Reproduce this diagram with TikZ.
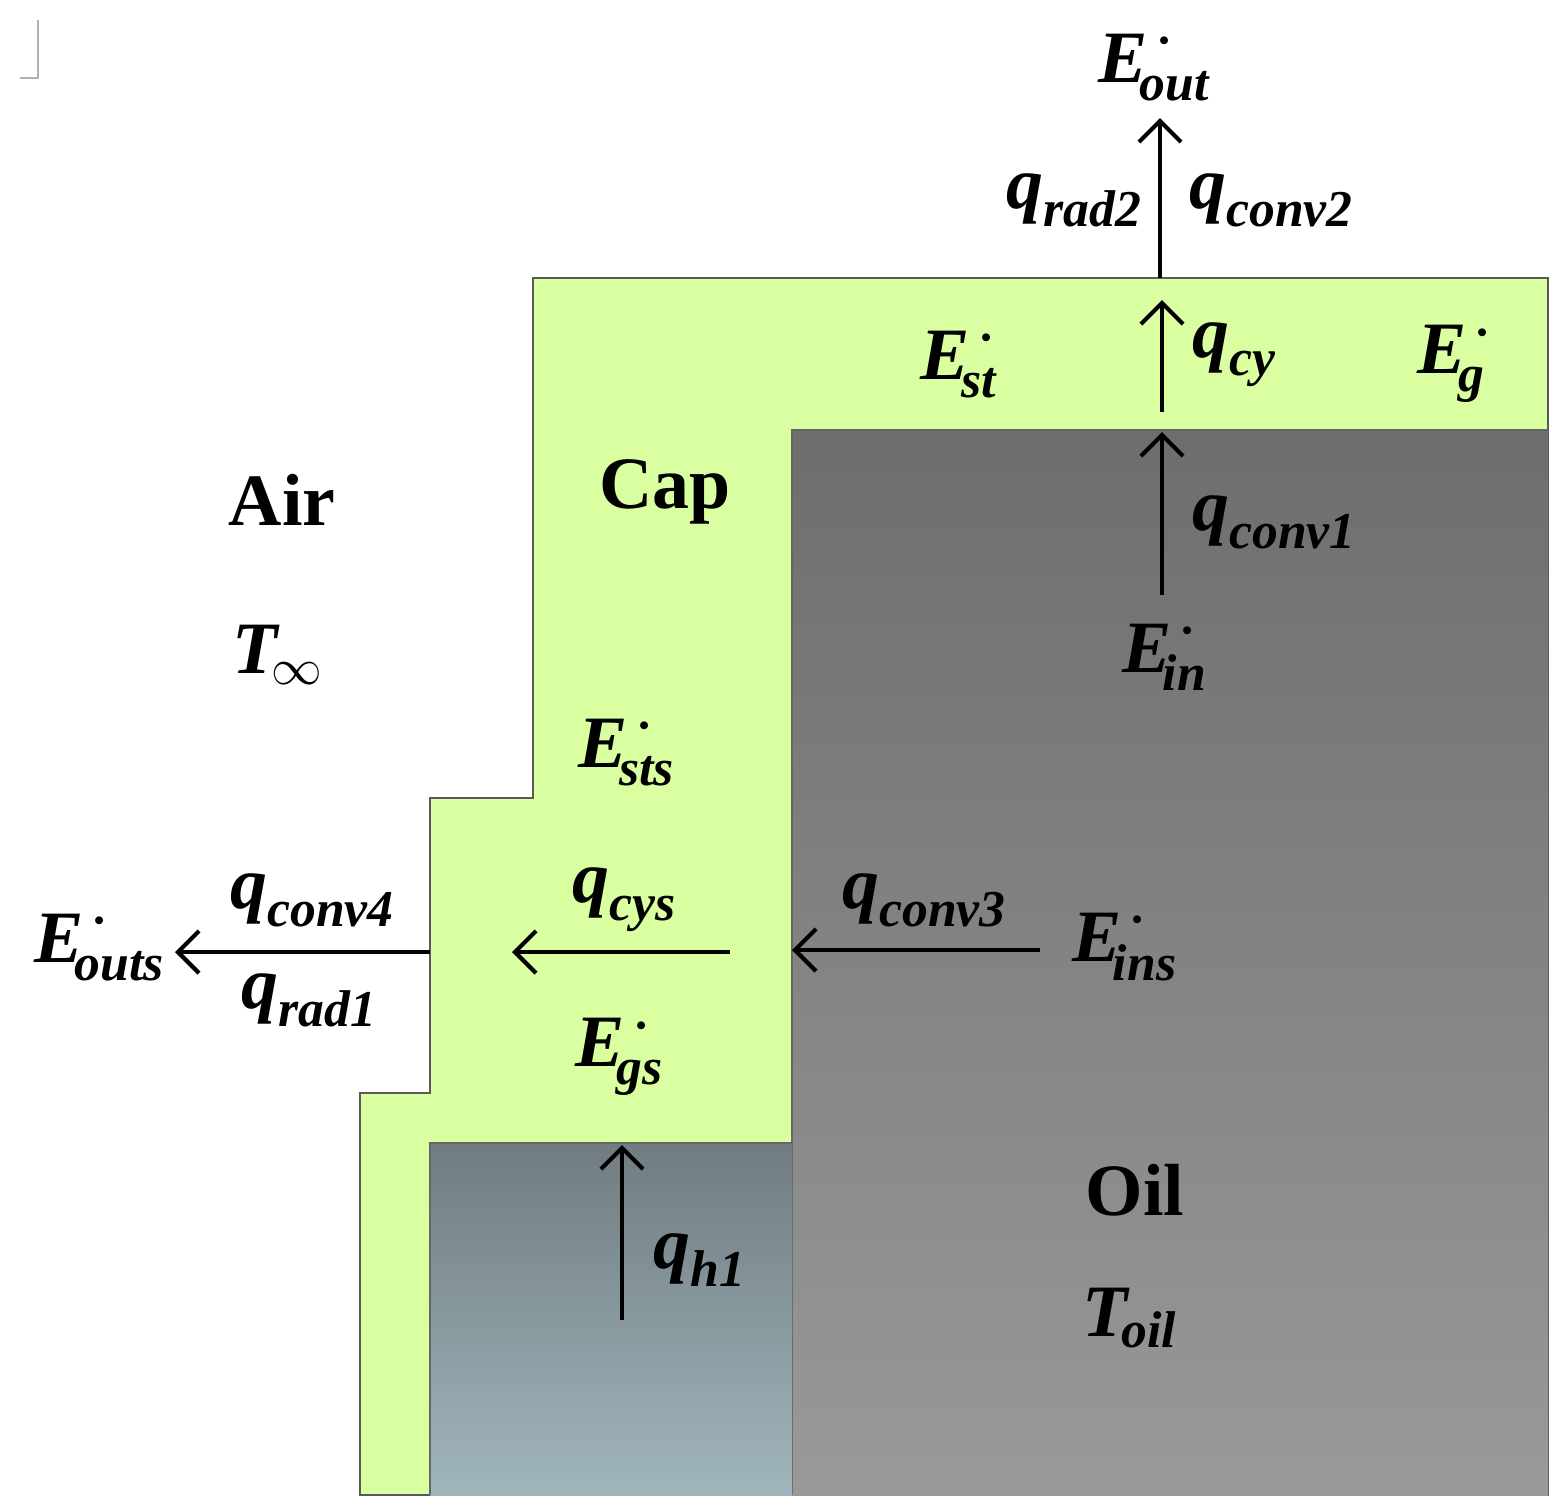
\documentclass[tikz,border=0pt]{standalone}
\usepackage{amsmath}
\usepackage{fontspec}
\setmainfont{Liberation Serif}
\usetikzlibrary{arrows.meta}
\definecolor{capg}{HTML}{D9FFA0}
\newcommand{\bi}[1]{\textbf{\textit{#1}}}
\newcommand{\En}[1]{$\bi{E}^{\,\boldsymbol{\cdot}}_{\!\bi{#1}}$}
\newcommand{\qn}[1]{$\bi{q}_{\bi{#1}}$}
\tikzset{
 fl/.style={line width=1.2pt,-{Straight Barb[length=6pt,width=12pt,line width=1.2pt]}},
 lb/.style={font=\fontsize{21}{24}\selectfont, inner sep=0pt},
 word/.style={font=\fontsize{21}{24}\selectfont\bfseries, inner sep=0pt}
}
\begin{document}
\begin{tikzpicture}[x=0.01cm,y=-0.01cm]
\useasboundingbox (0,0) rectangle (1560,1511);
\draw[gray!60] (20,78) -- (38,78) -- (38,20);
\draw[gray!70!black, fill=capg] (533,278) -- (1548,278) -- (1548,1495) -- (360,1495) -- (360,1093) -- (430,1093) -- (430,798) -- (533,798) -- cycle;
\shade[top color=black!57, bottom color=black!40] (792,430) rectangle (1548,1495);
\draw[gray!80!black] (792,1495) -- (792,430) -- (1548,430);
\shade[top color={rgb,255:red,112;green,124;blue,128}, bottom color={rgb,255:red,160;green,182;blue,188}] (430,1143) rectangle (792,1495);
\draw[gray!80!black] (430,1495) -- (430,1143) -- (792,1143);

\coordinate (a1s) at (1160,278); \coordinate (a1e) at (1160,118);
\coordinate (a2s) at (1162,412); \coordinate (a2e) at (1162,300);
\coordinate (a3s) at (1162,595); \coordinate (a3e) at (1162,432);
\coordinate (a4s) at (430,952); \coordinate (a4e) at (175,952);
\coordinate (a5s) at (730,952); \coordinate (a5e) at (512,952);
\coordinate (a6s) at (1040,950); \coordinate (a6e) at (792,950);
\coordinate (a7s) at (622,1320); \coordinate (a7e) at (622,1145);
\draw[fl] (a1s) -- (a1e);
\draw[fl] (a2s) -- (a2e);
\draw[fl] (a3s) -- (a3e);
\draw[fl] (a4s) -- (a4e);
\draw[fl] (a5s) -- (a5e);
\draw[fl] (a6s) -- (a6e);
\draw[fl] (a7s) -- (a7e);

\node[lb] (eout) at (1155,65) {\En{out}};
\node[lb] (qr2) at (1075,200) {\qn{rad2}};
\node[lb] (qc2) at (1272,200) {\qn{conv2}};
\node[lb] (qcy) at (1235,355) {\qn{cy}};
\node[lb] (qc1) at (1275,522) {\qn{conv1}};
\node[lb] (ein) at (1165,655) {\En{in}};
\node[lb] (est) at (960,362) {\En{st}};
\node[lb] (eg) at (1455,362) {\En{g}};
\node[word] (air) at (282,500) {Air};
\node[word] (cap) at (665,492) {Cap};
\node[lb] (tinf) at (278,655) {$\bi{T}_{\!\infty}$};
\node[lb] (ests) at (627,750) {\En{sts}};
\node[lb] (eouts) at (100,945) {\En{outs}};
\node[lb] (qc4) at (313,900) {\qn{conv4}};
\node[lb] (qr1) at (310,1000) {\qn{rad1}};
\node[lb] (qcys) at (625,900) {\qn{cys}};
\node[lb] (qc3) at (925,900) {\qn{conv3}};
\node[lb] (eins) at (1125,945) {\En{ins}};
\node[lb] (egs) at (620,1055) {\En{gs}};
\node[lb] (qh1) at (700,1260) {\qn{h1}};
\node[word] (oil) at (1135,1190) {Oil};
\node[lb] (toil) at (1130,1318) {$\bi{T}_{\!\bi{oil}}$};
\end{tikzpicture}
\end{document}
